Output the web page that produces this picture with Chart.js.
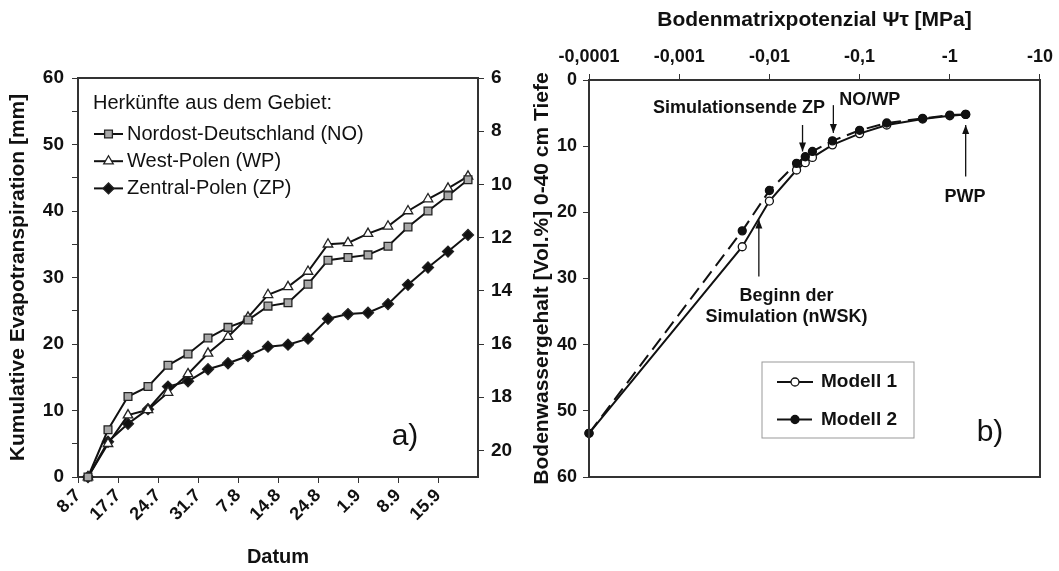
<!DOCTYPE html>
<html><head><meta charset="utf-8">
<script src="https://cdn.jsdelivr.net/npm/chart.js@4.4.0/dist/chart.umd.min.js"></script>
<style>
html,body{margin:0;padding:0;background:#fff;width:1059px;height:571px;overflow:hidden}
#wa{position:absolute;left:0;top:0;width:530px;height:571px}
#wb{position:absolute;left:530px;top:0;width:529px;height:571px}
</style></head><body>
<div id="wa"><canvas id="ca"></canvas></div>
<div id="wb"><canvas id="cb"></canvas></div>
<script>
// ---- Panel a data ----
const dateTicks = ['8.7','17.7','24.7','31.7','7.8','14.8','24.8','1.9','8.9','15.9'];
const etNO = [0, 7.1, 12.1, 13.6, 16.8, 18.5, 20.9, 22.5, 23.6, 25.7, 26.2, 29.0, 32.6, 33.0, 33.4, 34.7, 37.6, 40.0, 42.3, 44.7];
const etWP = [0, 5.0, 9.3, 10.1, 12.7, 15.5, 18.6, 21.1, 24.0, 27.4, 28.6, 30.9, 35.0, 35.2, 36.6, 37.7, 40.0, 41.8, 43.4, 45.2];
const etZP = [0, 5.3, 8.0, 10.2, 13.6, 14.4, 16.2, 17.1, 18.2, 19.6, 19.9, 20.8, 23.8, 24.5, 24.7, 26.0, 28.9, 31.5, 33.9, 36.4];
const rightTicks = [6, 8, 10, 12, 14, 16, 18, 20];
// ---- Panel b data ----
const psi    = [-0.0001, -0.005, -0.01, -0.02, -0.025, -0.03, -0.05, -0.1, -0.2, -0.5, -1, -1.5];
const theta1 = [53.4, 25.2, 18.3, 13.6, 12.5, 11.7, 9.8, 8.1, 6.8, 5.9, 5.4, 5.2];
const theta2 = [53.4, 22.8, 16.7, 12.6, 11.6, 10.8, 9.2, 7.6, 6.5, 5.8, 5.3, 5.2];
const psiTicks = [0.0001, 0.001, 0.01, 0.1, 1, 10];

const FONT = "'Liberation Sans', Arial, sans-serif";
Chart.defaults.font.family = FONT;
Chart.defaults.color = '#111';
const AX = '#333';
const tickFont = {family: FONT, size: 18, weight: 'bold'};
const tickFontA = {family: FONT, size: 19, weight: 'bold'};
const titleFont = {family: FONT, size: 21, weight: 'bold'};

// ---------------- Panel a ----------------
const legendA = {
  id: 'legendA',
  afterDatasetsDraw(chart) {
    const {ctx, chartArea: a} = chart;
    ctx.save();
    ctx.strokeStyle = AX; ctx.lineWidth = 2;
    ctx.beginPath(); ctx.moveTo(a.left, a.top); ctx.lineTo(a.right, a.top); ctx.stroke();
    ctx.fillStyle = '#111'; ctx.font = `20px ${FONT}`;
    ctx.textBaseline = 'middle'; ctx.textAlign = 'left';
    ctx.fillText('Herkünfte aus dem Gebiet:', a.left + 15, a.top + 25);
    chart.data.datasets.forEach((ds, i) => {
      const y = a.top + 56 + i * 27.2;
      ctx.strokeStyle = '#111'; ctx.lineWidth = 2;
      ctx.beginPath(); ctx.moveTo(a.left + 16, y); ctx.lineTo(a.left + 45, y); ctx.stroke();
      ctx.fillStyle = ds.pointBackgroundColor; ctx.strokeStyle = ds.pointBorderColor; ctx.lineWidth = ds.pointBorderWidth;
      Chart.helpers.drawPoint(ctx, {pointStyle: ds.pointStyle, radius: ds.pointRadius, borderWidth: ds.pointBorderWidth}, a.left + 30.5, y);
      ctx.fillStyle = '#111';
      ctx.fillText(ds.label, a.left + 49, y);
    });
    ctx.font = `30px ${FONT}`; ctx.textAlign = 'center';
    ctx.fillText('a)', a.left + 327, a.top + 359);
    ctx.restore();
  }
};

const pts = arr => arr.map((v, i) => ({x: i, y: v}));
const lineDs = (label, arr, style, fill) => ({
  label, data: pts(arr), borderColor: '#111', borderWidth: 2, clip: false,
  pointStyle: style, pointRadius: 5.5, pointBackgroundColor: fill,
  pointBorderColor: '#222', pointBorderWidth: 1.3, tension: 0
});

new Chart(document.getElementById('ca'), {
  type: 'line',
  data: {datasets: [
    lineDs('Nordost-Deutschland (NO)', etNO, 'rect', '#a8a8a8'),
    lineDs('West-Polen (WP)', etWP, 'triangle', '#ffffff'),
    lineDs('Zentral-Polen (ZP)', etZP, 'rectRot', '#111111')
  ]},
  options: {
    responsive: true, maintainAspectRatio: false, animation: false,
    layout: {padding: {top: 78, left: 0, right: 0, bottom: 0}},
    plugins: {legend: {display: false}, tooltip: {enabled: false}},
    scales: {
      x: {
        type: 'linear', position: 'bottom', min: -0.5, max: dateTicks.length * 2 - 0.5,
        afterBuildTicks: s => { s.ticks = dateTicks.map((t, k) => ({value: -0.5 + 2 * k})); },
        afterFit: s => { s.height = 94; },
        ticks: {callback: (v, i) => dateTicks[i], maxRotation: 45, minRotation: 45, autoSkip: false, font: tickFont, color: '#111', padding: 2},
        grid: {drawOnChartArea: false, tickLength: 6, color: AX, lineWidth: 1},
        border: {color: AX, width: 2},
        title: {display: true, text: 'Datum', font: {family: FONT, size: 20, weight: 'bold'}, color: '#111', padding: {top: 0, bottom: 2}}
      },
      y: {
        position: 'left', min: 0, max: 60,
        afterFit: s => { s.width = 78; },
        ticks: {stepSize: 5, callback: v => (v % 10 === 0 ? v : ''), font: tickFontA, color: '#111', padding: 8},
        grid: {drawOnChartArea: false, tickLength: 6, color: AX},
        border: {color: AX, width: 2},
        title: {display: true, text: 'Kumulative Evapotranspiration [mm]', font: titleFont, color: '#111', padding: {top: 6, bottom: 0}}
      },
      y2: {
        position: 'right', min: 6, max: 21, reverse: true,
        afterBuildTicks: s => { s.ticks = rightTicks.map(v => ({value: v})); },
        afterFit: s => { s.width = 52; },
        ticks: {font: tickFontA, color: '#111', padding: 7},
        grid: {drawOnChartArea: false, tickLength: 6, color: AX},
        border: {color: AX, width: 2}
      }
    }
  },
  plugins: [legendA]
});

// ---------------- Panel b ----------------
const annotationsB = [
  {lines: ['Simulationsende ZP'], tx: 0.0046, ty: 4.3, ax: 0.0233, ay1: 6.8, ay2: 10.8},
  {lines: ['NO/WP'], tx: 0.13, ty: 3.1, ax: 0.0512, ay1: 3.8, ay2: 8.0},
  {lines: ['PWP'], tx: 1.47, ty: 17.7, ax: 1.5, ay1: 14.6, ay2: 6.8},
  {lines: ['Beginn der', 'Simulation (nWSK)'], tx: 0.0155, ty: 32.6, ax: 0.00764, ay1: 29.7, ay2: 21.1}
];

function arrow(ctx, x, y1, y2) {
  ctx.beginPath(); ctx.moveTo(x, y1); ctx.lineTo(x, y2); ctx.stroke();
  const d = y2 > y1 ? 1 : -1;
  ctx.beginPath(); ctx.moveTo(x, y2); ctx.lineTo(x - 3.5, y2 - d * 9); ctx.lineTo(x + 3.5, y2 - d * 9); ctx.closePath(); ctx.fill();
}

const annB = {
  id: 'annB',
  afterDatasetsDraw(chart) {
    const {ctx, chartArea: a, scales: {x, y}} = chart;
    ctx.save();
    ctx.strokeStyle = AX; ctx.lineWidth = 2;
    ctx.strokeRect(a.left, a.top, a.right - a.left, a.bottom - a.top);
    ctx.fillStyle = '#111'; ctx.strokeStyle = '#111'; ctx.lineWidth = 1.3;
    ctx.font = `bold 18px ${FONT}`; ctx.textAlign = 'center'; ctx.textBaseline = 'middle';
    annotationsB.forEach(an => {
      an.lines.forEach((t, k) => ctx.fillText(t, x.getPixelForValue(an.tx), y.getPixelForValue(an.ty) + k * 21));
      arrow(ctx, x.getPixelForValue(an.ax), y.getPixelForValue(an.ay1), y.getPixelForValue(an.ay2));
    });
    // legend
    const lx = a.left + 173, ly = a.top + 282;
    ctx.strokeStyle = '#999'; ctx.lineWidth = 1;
    ctx.strokeRect(lx, ly, 152, 76);
    ctx.font = `bold 19px ${FONT}`; ctx.textAlign = 'left';
    chart.data.datasets.forEach((ds, i) => {
      const yy = ly + 20 + i * 37.5;
      ctx.strokeStyle = '#111'; ctx.lineWidth = 2;
      ctx.setLineDash(ds.borderDash || []);
      ctx.beginPath(); ctx.moveTo(lx + 15, yy); ctx.lineTo(lx + 51, yy); ctx.stroke();
      ctx.setLineDash([]);
      ctx.fillStyle = ds.pointBackgroundColor; ctx.lineWidth = ds.pointBorderWidth;
      Chart.helpers.drawPoint(ctx, {pointStyle: 'circle', radius: ds.pointRadius, borderWidth: ds.pointBorderWidth}, lx + 33, yy);
      ctx.fillStyle = '#111';
      ctx.fillText(ds.label, lx + 59, yy);
    });
    ctx.font = `30px ${FONT}`; ctx.textAlign = 'center';
    ctx.fillText('b)', a.left + 401, a.top + 353);
    ctx.restore();
  }
};

const curve = th => psi.map((p, i) => ({x: -p, y: th[i]}));

new Chart(document.getElementById('cb'), {
  type: 'line',
  data: {datasets: [
    {label: 'Modell 1', data: curve(theta1), borderColor: '#111', borderWidth: 2, clip: false, order: 1,
     pointRadius: 4, pointBackgroundColor: '#fff', pointBorderColor: '#111', pointBorderWidth: 1.3},
    {label: 'Modell 2', data: curve(theta2), borderColor: '#111', borderWidth: 2, borderDash: [14, 7], clip: false, order: 0,
     pointRadius: 4, pointBackgroundColor: '#111', pointBorderColor: '#111', pointBorderWidth: 1.3}
  ]},
  options: {
    responsive: true, maintainAspectRatio: false, animation: false,
    layout: {padding: {top: 0, left: 0, right: 16, bottom: 94}},
    plugins: {legend: {display: false}, tooltip: {enabled: false}},
    scales: {
      x: {
        type: 'logarithmic', position: 'top', min: psiTicks[0], max: psiTicks[psiTicks.length - 1],
        afterBuildTicks: s => { s.ticks = psiTicks.map(v => ({value: v})); },
        afterFit: s => { s.height = 80; },
        ticks: {callback: v => '-' + String(v).replace('.', ','), autoSkip: false, maxRotation: 0, font: tickFont, color: '#111', padding: 6},
        grid: {drawOnChartArea: false, tickLength: 6, color: AX},
        border: {color: AX, width: 2},
        title: {display: true, text: 'Bodenmatrixpotenzial \u03A8\u03C4 [MPa]', font: titleFont, color: '#111', padding: {top: 8, bottom: 0}}
      },
      y: {
        position: 'left', min: 0, max: 60, reverse: true,
        afterFit: s => { s.width = 59; },
        ticks: {stepSize: 10, font: tickFont, color: '#111', padding: 6},
        grid: {drawOnChartArea: false, tickLength: 6, color: AX},
        border: {color: AX, width: 2},
        title: {display: true, text: 'Bodenwassergehalt [Vol.%] 0-40 cm Tiefe', font: titleFont, color: '#111', padding: {top: 0, bottom: 0}}
      }
    }
  },
  plugins: [annB]
});
</script>
</body></html>
